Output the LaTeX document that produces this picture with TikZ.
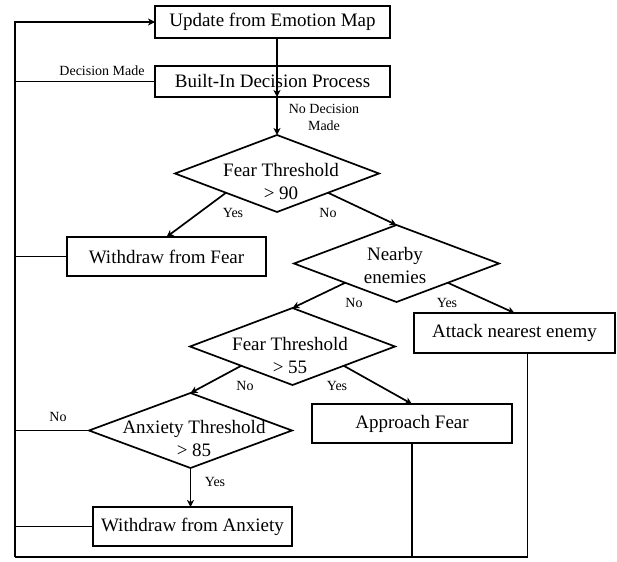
\documentclass[tikz,border=0pt]{standalone}
\usepackage{fontspec}
\setmainfont{Liberation Serif}
\usetikzlibrary{shapes.geometric,arrows.meta}
\begin{document}
\begin{tikzpicture}[x=1pt,y=-1pt,
  line width=1.7pt,
  box/.style={draw,rectangle,inner sep=0pt,outer sep=0pt,font=\fontsize{19}{22}\selectfont},
  dia/.style={draw,diamond,inner sep=0pt,outer sep=0pt},
  dtext/.style={align=center,inner sep=0pt,font=\fontsize{19}{23}\selectfont},
  lab/.style={inner sep=0pt,font=\fontsize{14}{17}\selectfont},
  arr/.style={-{Stealth[length=7pt,width=7pt,inset=2pt]}},
]
\useasboundingbox (0,0) rectangle (617,561);

% boxes
\node[box,minimum width=235pt,minimum height=32pt] (upd) at (272.5,22) {Update from Emotion Map};
\node[box,minimum width=235pt,minimum height=31pt] (bip) at (272.5,81.5) {Built-In Decision Process};
\node[box,minimum width=199pt,minimum height=39pt] (wff) at (166.5,256.5) {Withdraw from Fear};
\node[box,minimum width=201pt,minimum height=40pt] (att) at (514.5,333) {Attack nearest enemy};
\node[box,minimum width=200pt,minimum height=39pt] (apf) at (412,423.5) {Approach Fear};
\node[box,minimum width=199pt,minimum height=39pt] (wfa) at (192.5,526.5) {Withdraw from Anxiety};

% diamonds
\node[dia,minimum width=204pt,minimum height=77pt] (d90) at (277,173.5) {};
\node[dia,minimum width=205pt,minimum height=77pt] (dne) at (396.5,263.5) {};
\node[dia,minimum width=205pt,minimum height=77pt] (d55) at (292.5,346.5) {};
\node[dia,minimum width=203pt,minimum height=75pt] (dax) at (190.5,430.5) {};

\node[dtext] (t90) at (281,181.5) {Fear Threshold\\> 90};
\node[dtext] (tne) at (395,265.5) {Nearby\\enemies};
\node[dtext] (t55) at (290,355) {Fear Threshold\\> 55};
\node[dtext] (tax) at (194,438.5) {Anxiety Threshold\\> 85};

% left return line
\coordinate (Lb) at (15,557);
\coordinate (Lt) at (Lb |- upd.west);
\coordinate (Ab) at ([xshift=13pt]att.south);

\draw[arr] (Lb) -- (Lt) -- (upd.west);
\draw (bip.west) -- (Lb |- bip.west);
\draw (wff.west) -- (Lb |- wff.west);
\draw (dax.west) -- (Lb |- dax.west);
\draw (wfa.west) -- (Lb |- wfa.west);
\draw (Ab) -- (Ab |- Lb) -- (Lb);
\draw (apf.south) -- (apf.south |- Lb);

% flow arrows
\draw[arr] (upd.south -| 277,0) -- (bip.south -| 277,0);
\draw[arr] (bip.south -| d90.north) -- (d90.north);
\draw[arr] (d90.south west) -- (wff.north);
\draw[arr] (d90.south east) -- (dne.north);
\draw[arr] (dne.south west) -- (d55.north);
\draw[arr] (dne.south east) -- (att.north);
\draw[arr] (d55.south west) -- (dax.north);
\draw[arr] (d55.south east) -- (apf.north);
\draw[arr] (dax.south) -- (dax.south |- wfa.north);

% labels
\node[lab] (ldm) at (102,71) {Decision Made};
\node[lab,align=center] (lndm) at (324,117) {No Decision\\Made};
\node[lab] (ly90) at (233,213) {Yes};
\node[lab] (ln90) at (328,213) {No};
\node[lab] (lnne) at (354,303) {No};
\node[lab] (lyne) at (447,303) {Yes};
\node[lab] (ln55) at (245,386) {No};
\node[lab] (ly55) at (337,386) {Yes};
\node[lab] (lnax) at (58,417) {No};
\node[lab] (lyax) at (215,482) {Yes};
\end{tikzpicture}
\end{document}
